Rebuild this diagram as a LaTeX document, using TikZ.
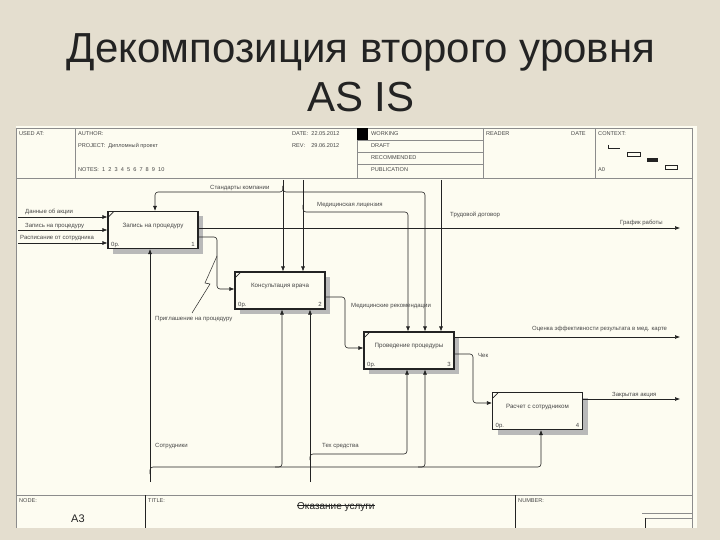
\documentclass[tikz,border=0pt]{standalone}
\usepackage{fontspec}
\setmainfont{Liberation Sans}
\usetikzlibrary{arrows.meta,shadows}
\definecolor{bgc}{RGB}{228,222,207}
\definecolor{paper}{RGB}{253,252,241}
\definecolor{ink}{RGB}{35,35,35}
\definecolor{txt}{RGB}{70,70,70}
\definecolor{frm}{RGB}{140,140,140}
\begin{document}
\begin{tikzpicture}[x=1pt,y=-1pt,
  func/.style={draw=ink, line width=1.1pt, fill=paper, minimum width=90pt, minimum height=37pt,
    inner sep=0pt, text depth=10pt, text=txt, font=\fontsize{6.2}{7}\selectfont,
    drop shadow={shadow xshift=5pt,shadow yshift=-5pt,fill=gray!55,opacity=1}},
  lab/.style={font=\fontsize{6}{7}\selectfont, inner sep=0pt, anchor=base west, text=txt},
  hdr/.style={font=\fontsize{5.6}{7}\selectfont, inner sep=0pt, anchor=base west, text=txt},
  arr/.style={draw=ink, line width=0.6pt, rounded corners=3pt, -{Latex[length=5pt,width=4pt]}},
  ln/.style={draw=ink, line width=0.5pt},
  frame/.style={draw=frm, line width=0.7pt},
  ttl/.style={font=\fontsize{42}{48}\selectfont, text=ink, inner sep=0pt, anchor=base}
]
\useasboundingbox (0,0) rectangle (720,540);
\fill[bgc] (0,0) rectangle (720,540);
\fill[paper] (16,126) rectangle (697,528);

% title
\node[ttl] (t1) at (361,63) {Декомпозиция второго уровня};
\node[ttl] (t2) at (361,112) {AS IS};

% form frame
\draw[frame] (16,128) -- (692,128) (16,128) -- (16,528) (692,128) -- (692,528)
  (16,178) -- (692,178) (75,128) -- (75,178) (357,128) -- (357,178)
  (483,128) -- (483,178) (595,128) -- (595,178)
  (357,140) -- (483,140) (357,152) -- (483,152) (357,164) -- (483,164)
  (16,495) -- (692,495) (145,495) -- (145,528) (515,495) -- (515,528)
  (642,513) -- (692,513) (645,518) -- (692,518);
\draw[ink, line width=0.6pt] (145,495) -- (145,528) (515,495) -- (515,528) (645,518) -- (645,528);
\fill[black] (357,128) rectangle (368,140);

% header texts
\node[hdr] (h1) at (19,136) {USED AT:};
\node[hdr] (h2) at (78,136) {AUTHOR:};
\node[hdr] (h3) at (78,148) {PROJECT:\ \ Дипломный проект};
\node[hdr] (h4) at (78,172) {NOTES:\ \ 1\ \ 2\ \ 3\ \ 4\ \ 5\ \ 6\ \ 7\ \ 8\ \ 9\ \ 10};
\node[hdr] (h5) at (292,136) {DATE:\ \ 22.05.2012};
\node[hdr] (h6) at (292,148) {REV:\ \ \ \ 29.06.2012};
\node[hdr] (h7) at (371,136) {WORKING};
\node[hdr] (h8) at (371,148) {DRAFT};
\node[hdr] (h9) at (371,160) {RECOMMENDED};
\node[hdr] (h10) at (371,172) {PUBLICATION};
\node[hdr] (h11) at (486,136) {READER};
\node[hdr] (h12) at (571,136) {DATE};
\node[hdr] (h13) at (598,136) {CONTEXT:};
\node[hdr] (h14) at (598,172) {A0};

% context miniature
\draw[ink, line width=0.6pt] (608,145) -- (608,148) -- (620,148);
\draw[ink, line width=0.6pt] (627,152) rectangle (640,156);
\fill[ink] (647,158) rectangle (658,162);
\draw[ink, line width=0.6pt] (665,165) rectangle (677,169);

% bottom bar
\node[hdr] (n1) at (19,502) {NODE:};
\node[font=\fontsize{11}{12}\selectfont, inner sep=0pt, anchor=base west, text=ink] (n2) at (71,522) {A3};
\node[hdr] (n3) at (148,502) {TITLE:};
\node[font=\fontsize{10}{12}\selectfont, inner sep=0pt, anchor=base west, text=ink] (n4) at (297,509) {Оказание услуги};
\draw[ink, line width=0.7pt] (n4.west |- 0,505) -- (n4.east |- 0,505);
\node[hdr] (n5) at (518,502) {NUMBER:};

% function boxes
\node[func] (b1) at (153,230) {Запись на процедуру};
\node[func] (b2) at (280,290.5) {Консультация врача};
\node[func] (b3) at (409,350.5) {Проведение процедуры};
\node[func] (b4) at (537.5,411) {Расчет с сотрудником};
\foreach \b in {b1,b2,b3,b4}{
  \draw[ink, line width=0.6pt] (\b.north west) ++(1,6) -- ++(5,-5);
}
\node[lab] (c1a) at (111,246) {0р.};
\node[lab, anchor=base east] (c1b) at (195,246) {1};
\node[lab] (c2a) at (238,306.5) {0р.};
\node[lab, anchor=base east] (c2b) at (322,306.5) {2};
\node[lab] (c3a) at (367,366.5) {0р.};
\node[lab, anchor=base east] (c3b) at (451,366.5) {3};
\node[lab] (c4a) at (495.5,427) {0р.};
\node[lab, anchor=base east] (c4b) at (579.5,427) {4};

% inputs of box 1
\coordinate (inA) at (18,217);
\coordinate (inB) at (18,230);
\coordinate (inC) at (18,243);
\draw[arr] (inA) -- (inA -| b1.west);
\draw[arr] (inB) -- (inB -| b1.west);
\draw[arr] (inC) -- (inC -| b1.west);
\node[lab] (la) at (25,214) {Данные об акции};
\node[lab] (lb) at (25,227) {Запись на процедуру};
\node[lab] (lc) at (20,240) {Расписание от сотрудника};

% controls
\coordinate (stT) at (283,180);
\draw[arr] (stT) -- (stT |- b2.north);
\draw[arr] (283,186) |- (155,192) -- (155,0 |- b1.north);
\draw[arr] (283,186) |- (425,192) -- (425,0 |- b3.north);
\node[lab] (ls) at (210,189.5) {Стандарты компании};

\coordinate (liT) at (303,180);
\draw[arr] (liT) -- (liT |- b2.north);
\draw[arr] (303,205) |- (408,212) -- (408,0 |- b3.north);
\node[lab] (ll) at (317,207) {Медицинская лицензия};

\coordinate (tdT) at (441,180);
\draw[arr] (tdT) -- (tdT |- b3.north);
\node[lab] (lt) at (450,217) {Трудовой договор};

% outputs
\coordinate (grE) at (680,228);
\draw[arr] (grE -| b1.east) -- (grE);
\node[lab] (lg) at (620,225) {График работы};

\draw[arr] (b1.east |- 0,237) -| (217,289) -- (b2.west |- 0,289);
\draw[ln] (217,256) -- (205,283) -- (210,284) -- (192,313);
\node[lab] (lp) at (155,320) {Приглашение на процедуру};

\draw[arr] (b2.east |- 0,297) -| (345,348) -- (b3.west |- 0,348);
\node[lab] (lm) at (351,307) {Медицинские рекомендации};

\coordinate (ocE) at (680,337);
\draw[arr] (ocE -| b3.east) -- (ocE);
\node[lab] (lo) at (532,330) {Оценка эффективности результата в мед. карте};

\draw[arr] (b3.east |- 0,354) -| (473,403) -- (b4.west |- 0,403);
\node[lab] (lch) at (478,357) {Чек};

\coordinate (zaE) at (680,399);
\draw[arr] (zaE -| b4.east) -- (zaE);
\node[lab] (lz) at (612,396) {Закрытая акция};

% mechanisms
\coordinate (soB) at (150,482);
\draw[arr] (soB) -- (soB |- b1.south);
\draw[arr] (150,474) |- (541,467) -- (541,0 |- b4.south);
\draw[arr] (275,467) -| (282,0 |- b2.south);
\draw[arr] (418,467) -| (425,0 |- b3.south);
\node[lab] (lso) at (155,447) {Сотрудники};

\coordinate (teB) at (310,482);
\draw[arr] (teB) -- (teB |- b2.south);
\draw[arr] (310,460) |- (407,454) -- (407,0 |- b3.south);
\node[lab] (lte) at (322,447) {Тех средства};
\end{tikzpicture}
\end{document}
